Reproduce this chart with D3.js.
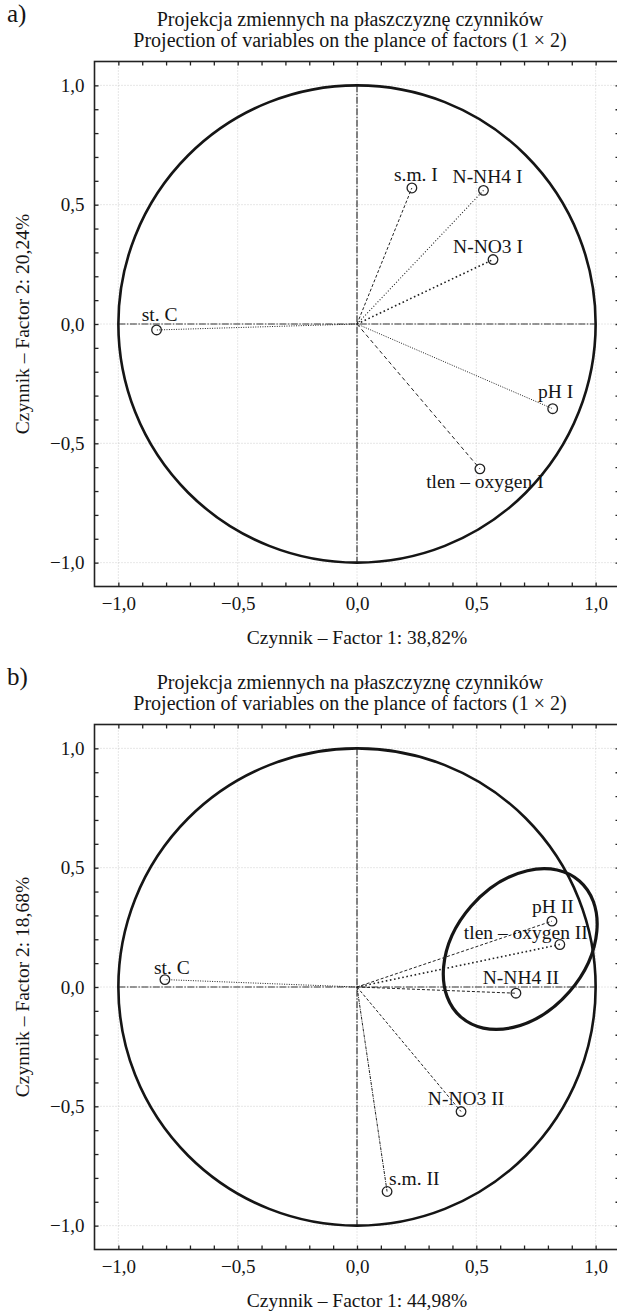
<!DOCTYPE html>
<html>
<head>
<meta charset="utf-8">
<script src="https://cdn.jsdelivr.net/npm/d3@7"></script>
<style>
  html, body { margin: 0; padding: 0; background: #fff; }
  svg text { font-family: "Liberation Serif", "Times New Roman", serif; fill: #151515; }
</style>
</head>
<body>
<svg id="chart" width="617" height="1312"></svg>
<script>
// ---------- DATA ----------
const titleLine1 = "Projekcja zmiennych na płaszczyznę czynników";
const titleLine2 = "Projection of variables on the plance of factors (1 × 2)";

const tickValues = [-1.0, -0.5, 0.0, 0.5, 1.0];

// Panel a)
const varsA = ["s.m. I", "N-NH4 I", "N-NO3 I", "pH I", "tlen – oxygen I", "st. C"];
const factor1A = [0.23, 0.53, 0.57, 0.82, 0.515, -0.84];
const factor2A = [0.57, 0.56, 0.27, -0.355, -0.607, -0.025];
const xTitleA = "Czynnik – Factor 1: 38,82%";
const yTitleA = "Czynnik – Factor 2: 20,24%";

// Panel b)
const varsB = ["pH II", "tlen – oxygen II", "N-NH4 II", "N-NO3 II", "s.m. II", "st. C"];
const factor1B = [0.817, 0.85, 0.666, 0.436, 0.126, -0.805];
const factor2B = [0.276, 0.178, -0.026, -0.522, -0.857, 0.031];
const xTitleB = "Czynnik – Factor 1: 44,98%";
const yTitleB = "Czynnik – Factor 2: 18,68%";

// Highlight ellipse in panel b) (data units: centre f1, f2, semi-axes, rotation in degrees)
const ellipseB = { f1: 0.684, f2: 0.159, a: 0.378, b: 0.273, angle: 49 };

// ---------- STYLE (label placement in px, line dash styles) ----------
const styleA = [
  { dx: 4,  dy: -7,   anchor: "middle", dash: "3,2",     w: 1.0 },
  { dx: 4,  dy: -7.5, anchor: "middle", dash: "1,2",     w: 1.1 },
  { dx: -5, dy: -6.5, anchor: "middle", dash: "1.6,2.6", w: 1.6 },
  { dx: 3,  dy: -11,  anchor: "middle", dash: "1,1.4",   w: 1.0 },
  { dx: 5,  dy: 19.5, anchor: "middle", dash: "4,3",     w: 1.0 },
  { dx: 3,  dy: -8.5, anchor: "middle", dash: "1,1.4",   w: 1.0 }
];
const styleB = [
  { dx: 1,   dy: -8.5, anchor: "middle", dash: "3,2",     w: 1.0 },
  { dx: -34, dy: -5.5, anchor: "middle", dash: "1.6,2.6", w: 1.6 },
  { dx: 5,   dy: -9.5, anchor: "middle", dash: "3,2",     w: 1.0 },
  { dx: 5,   dy: -6.5, anchor: "middle", dash: "3,2",     w: 1.0 },
  { dx: 2,   dy: -6.5, anchor: "start",  dash: "3,1,1,1", w: 1.0 },
  { dx: 7,   dy: -5.5, anchor: "middle", dash: "1,1.4",   w: 1.0 }
];

const svg = d3.select("#chart");
const fmt = v => d3.format(".1f")(v).replace(".", ",").replace("-", "\u2212");

function drawPanel(opts) {
  const left = 94.5, size = 525, top = opts.top;
  const x = d3.scaleLinear().domain([-1.1, 1.1]).range([left, left + size]);
  const y = d3.scaleLinear().domain([-1.1, 1.1]).range([top + size, top]);
  const g = svg.append("g");

  // panel letter
  g.append("text").attr("x", 7).attr("y", top - 40)
    .style("font-size", "25px").text(opts.letter);
  // titles
  g.append("text").attr("x", 350).attr("y", top - 36).attr("text-anchor", "middle")
    .style("font-size", "20px").text(titleLine1);
  g.append("text").attr("x", 350).attr("y", top - 15).attr("text-anchor", "middle")
    .style("font-size", "20px").text(titleLine2);

  // grid
  const grid = g.append("g").attr("stroke", "#c4c4c4").attr("stroke-width", 0.8)
    .attr("stroke-dasharray", "1,2");
  grid.selectAll("line.v").data(tickValues).join("line")
    .attr("x1", d => x(d)).attr("x2", d => x(d)).attr("y1", top).attr("y2", top + size);
  grid.selectAll("line.h").data(tickValues).join("line").attr("class", "h")
    .attr("y1", d => y(d)).attr("y2", d => y(d)).attr("x1", left).attr("x2", left + size);

  // crosshair through origin
  const cross = g.append("g").attr("stroke", "#333").attr("stroke-width", 1.2)
    .attr("stroke-dasharray", "7,1.5,1.5,1.5");
  cross.append("line").attr("x1", x(-1)).attr("x2", x(1)).attr("y1", y(0)).attr("y2", y(0));
  cross.append("line").attr("x1", x(0)).attr("x2", x(0)).attr("y1", y(1)).attr("y2", y(-1));

  // unit circle
  g.append("circle").attr("cx", x(0)).attr("cy", y(0)).attr("r", x(1) - x(0))
    .attr("fill", "none").attr("stroke", "#151515").attr("stroke-width", 2.6);

  // optional ellipse
  if (opts.ellipse) {
    const e = opts.ellipse;
    g.append("ellipse")
      .attr("transform", `translate(${x(e.f1)},${y(e.f2)}) rotate(${-e.angle})`)
      .attr("rx", x(e.a) - x(0)).attr("ry", x(e.b) - x(0))
      .attr("fill", "none").attr("stroke", "#151515").attr("stroke-width", 3.2);
  }

  const pts = opts.names.map((n, i) => ({ name: n, f1: opts.f1[i], f2: opts.f2[i], s: opts.style[i] }));

  // vectors
  g.append("g").selectAll("line").data(pts).join("line")
    .attr("x1", x(0)).attr("y1", y(0))
    .attr("x2", d => x(d.f1)).attr("y2", d => y(d.f2))
    .attr("stroke", "#222").attr("stroke-width", d => d.s.w)
    .attr("stroke-dasharray", d => d.s.dash);

  // markers
  g.append("g").selectAll("circle").data(pts).join("circle")
    .attr("cx", d => x(d.f1)).attr("cy", d => y(d.f2)).attr("r", 4.8)
    .attr("fill", "none").attr("stroke", "#222").attr("stroke-width", 1.3);

  // labels
  g.append("g").selectAll("text").data(pts).join("text")
    .attr("x", d => x(d.f1) + d.s.dx).attr("y", d => y(d.f2) + d.s.dy)
    .attr("text-anchor", d => d.s.anchor)
    .style("font-size", "19.5px").text(d => d.name);

  // frame
  g.append("rect").attr("x", left).attr("y", top).attr("width", size).attr("height", size)
    .attr("fill", "none").attr("stroke", "#222").attr("stroke-width", 1.6);

  // inward ticks every 0.1
  const minor = d3.range(-10, 11).map(i => i / 10);
  const tickStyle = sel => { sel.select(".domain").remove(); sel.selectAll("line").attr("stroke", "#222").attr("stroke-width", 1.3); };
  g.append("g").attr("transform", `translate(0,${top + size})`)
    .call(d3.axisBottom(x).tickValues(minor).tickSize(-4).tickFormat("")).call(tickStyle);
  g.append("g").attr("transform", `translate(0,${top})`)
    .call(d3.axisTop(x).tickValues(minor).tickSize(-4).tickFormat("")).call(tickStyle);
  g.append("g").attr("transform", `translate(${left},0)`)
    .call(d3.axisLeft(y).tickValues(minor).tickSize(-4).tickFormat("")).call(tickStyle);
  g.append("g").attr("transform", `translate(${left + size},0)`)
    .call(d3.axisRight(y).tickValues(minor).tickSize(-4).tickFormat("")).call(tickStyle);

  // tick labels
  const labStyle = sel => {
    sel.select(".domain").remove(); sel.selectAll("line").remove();
    sel.selectAll("text").style("font-size", "19px").attr("fill", "#151515")
      .style("font-family", '"Liberation Serif", "Times New Roman", serif');
  };
  g.append("g").attr("transform", `translate(0,${top + size})`)
    .call(d3.axisBottom(x).tickValues(tickValues).tickSize(0).tickPadding(10).tickFormat(fmt))
    .call(labStyle);
  g.append("g").attr("transform", `translate(${left},0)`)
    .call(d3.axisLeft(y).tickValues(tickValues).tickSize(0).tickPadding(10).tickFormat(fmt))
    .call(labStyle);

  // axis titles
  g.append("text").attr("x", x(0)).attr("y", top + size + 57).attr("text-anchor", "middle")
    .style("font-size", "19.5px").text(opts.xTitle);
  g.append("text").attr("transform", `translate(29,${y(0)}) rotate(-90)`)
    .attr("text-anchor", "middle").style("font-size", "19.5px").text(opts.yTitle);
}

drawPanel({ top: 61.5, letter: "a)", names: varsA, f1: factor1A, f2: factor2A, style: styleA,
            xTitle: xTitleA, yTitle: yTitleA });
drawPanel({ top: 724.5, letter: "b)", names: varsB, f1: factor1B, f2: factor2B, style: styleB,
            xTitle: xTitleB, yTitle: yTitleB, ellipse: ellipseB });
</script>
</body>
</html>
